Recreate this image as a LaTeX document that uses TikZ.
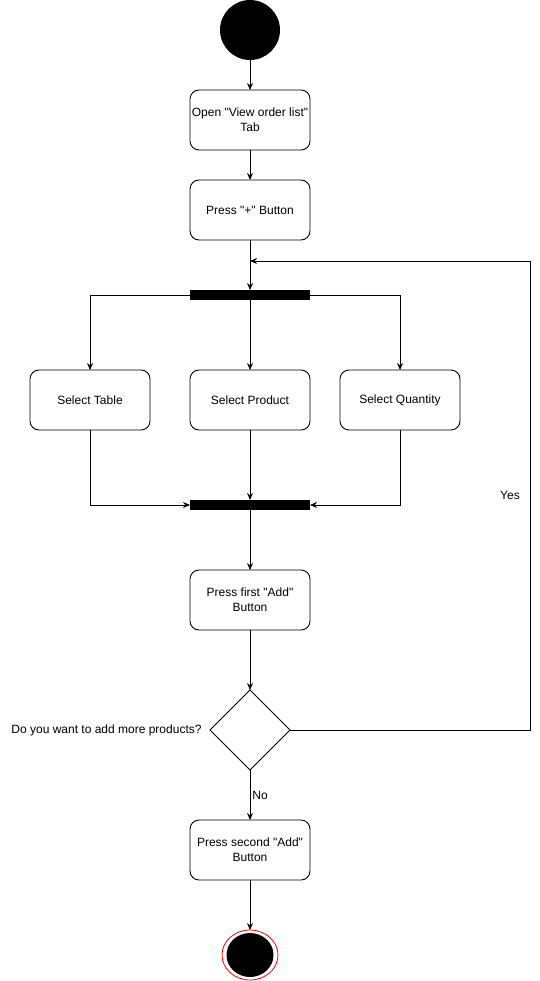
\documentclass[tikz,border=0pt]{standalone}
\usepackage{fontspec}
\setmainfont{Liberation Sans}[Ligatures=TeXOff]
\usetikzlibrary{positioning,shapes.geometric,arrows.meta}

\tikzset{
  action/.style={draw, rounded corners=9pt, minimum width=120pt, minimum height=60pt, align=center, inner sep=0pt, outer sep=0pt},
  syncbar/.style={fill=black, minimum width=120pt, minimum height=10pt, inner sep=0pt, outer sep=0pt},
  startdot/.style={circle, fill=black, minimum size=60pt, inner sep=0pt, outer sep=0pt},
  endring/.style={ellipse, draw=red, line width=0.8pt, minimum width=56pt, minimum height=50pt, inner sep=0pt, outer sep=0pt},
  endcore/.style={ellipse, fill=black, minimum width=47pt, minimum height=44pt, inner sep=0pt},
  choice/.style={diamond, draw, aspect=1, minimum width=80pt, minimum height=80pt, inner sep=0pt, outer sep=0pt},
  flow/.style={-{Stealth[length=7pt,width=6pt]}}
}

\begin{document}
\begin{tikzpicture}[x=1pt, y=-1pt, line width=0.9pt, node distance=30pt, font=\fontsize{12}{15}\selectfont]
\useasboundingbox (0,0) rectangle (539,981);
% nodes
\node[startdot] (init) at (250,30) {};
\node[action, below=of init] (openlist) {Open "View order list"\\Tab};
\node[action, below=of openlist] (pressplus) {Press "+" Button};
\node[syncbar, below=50pt of pressplus] (fork) {};
\node[action, below=70pt of fork] (product) {Select Product};
\node[action, left=40pt of product] (table) {Select Table};
\node[action, right=30pt of product] (quantity) {Select Quantity};
\node[syncbar, below=70pt of product] (join) {};
\node[action, below=60pt of join] (firstadd) {Press first "Add"\\Button};
\node[choice, below=60pt of firstadd] (decide) {};
\node[left=7pt of decide, inner sep=1pt] (question) {Do you want to add more products?};
\node[action, below=50pt of decide] (secondadd) {Press second "Add"\\Button};
\node[endring, below=50pt of secondadd] (final) {};
\node[endcore] (finalcore) at (final) {};
\node (yes) at (510,495) {Yes};
\coordinate (loopin) at (250,261);
% edges
\draw[flow] (init) -- (openlist);
\draw[flow] (openlist) -- (pressplus);
\draw[flow] (pressplus) -- (fork);
\draw[flow] (fork.west) -| (table);
\draw[flow] (fork) -- (product);
\draw[flow] (fork.east) -| (quantity);
\draw[flow] (table) |- (join.west);
\draw[flow] (product) -- (join);
\draw[flow] (quantity) |- (join.east);
\draw[flow] (join) -- (firstadd);
\draw[flow] (firstadd) -- (decide);
\draw[flow] (decide.east) -- ++(240,0) |- (loopin);
\draw[flow] (decide) -- node[right, inner sep=2pt] (no) {No} (secondadd);
\draw[flow] (secondadd) -- (final);
\end{tikzpicture}
\end{document}
